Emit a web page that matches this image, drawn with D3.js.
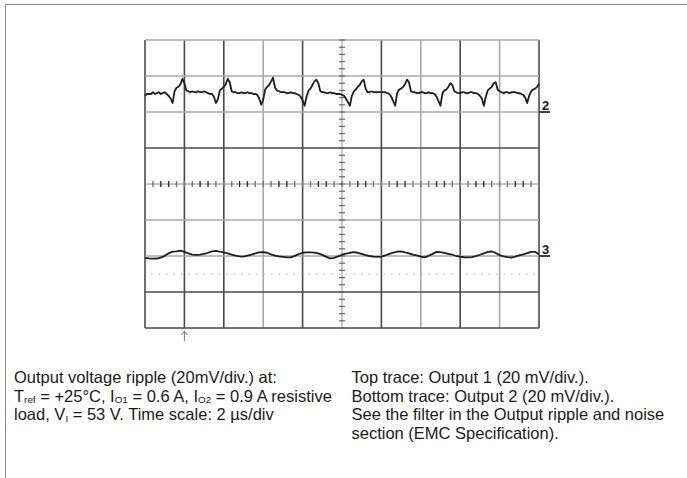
<!DOCTYPE html>
<html>
<head>
<meta charset="utf-8">
<script src="https://cdn.jsdelivr.net/npm/d3@7"></script>
<style>
  html, body { margin: 0; padding: 0; background: #fff; }
  svg { display: block; }
  text { font-family: "Liberation Sans", Arial, Helvetica, sans-serif; fill: #1a1a1a; }
</style>
</head>
<body>
<svg id="chart" width="687" height="478"></svg>
<script>
// Oscilloscope settings
const timePerDivUs = 2;       // µs per horizontal division
const mvPerDiv = 20;          // mV per vertical division
const hDivs = 10;
const vDivs = 8;
const sampleStepTopUs = 0.1;  // sampling interval of channel 2 record
const sampleStepBotUs = 0.2;  // sampling interval of channel 3 record
const ch2GroundMv = 40;       // channel 2 ground marker (+2 div)
const ch3GroundMv = -40;      // channel 3 ground marker (-2 div)
const channelLabels = ["2", "3"];

// Channel 2 (Output 1) record, mV above its ground marker
const output1Mv = [
  9,10,10,10,11,10,10.5,11,10,10.5,
  11,10,9,7.5,5,11.5,13.5,14,15.5,18.5,
  16,12,11.5,11,11.5,11,11,11.5,11,11,
  11.5,11,10.5,10,10,8.5,5,7,12,13,
  14,15.5,18.5,16.5,11.5,11,11,10.5,10.5,11,
  10.5,10.5,11,10.5,10.5,10,10,9.5,7.5,4,
  7,12.5,14,15,17,19,13.5,12,11.5,11,
  11,11,10.5,10.5,11,10.5,10.5,10,9.5,8.5,
  6.5,3.5,8.5,12,13,15,17,18,16,11.5,
  11,11,10.5,10.5,11,10.5,10.5,10,10,10,
  9.5,9,7.5,5.5,3.5,9,11.5,12.5,14,15,
  17,18,13,11,11,11.5,11,11,11,11,
  11,11,11,10.5,10,8.5,6,3.5,10.5,12.5,
  13,14,15.5,18,16.5,11.5,11,11,10.5,10.5,
  11,11,10.5,10.5,11,10.5,10.5,10,8.5,6,
  3.5,10.5,12,12.5,14,16,15,11.5,11,10.5,
  10.5,11,11,10.5,10.5,11,11,10.5,10.5,10,
  9,7.5,3.5,8.5,12,13,14,16,16.5,12.5,
  11.5,11,10.5,11,11,10.5,11,11,11,10.5,
  10.5,10,9.5,8,5,9,11.5,12.5,13,14,
  15.5
];

// Channel 3 (Output 2) record, mV above its ground marker
const output2Mv = [
  -1,-1.3,-1.5,-1.4,-0.9,0.1,1.5,2.4,2.6,3,
  2.3,1.5,0.8,0.6,0.8,1.2,1.8,2.6,2.8,2.4,
  2,1.5,0.8,0.2,-0.2,-0.3,0.2,0.8,1.5,2,
  2.2,1.8,0.9,0.2,-0.2,-0.5,-0.8,-0.8,0.1,1,
  1.8,2,2,1.9,1.5,0.6,-0.5,-1.3,-1,-0.2,
  0.7,1.3,1.8,2.2,1.8,1.2,0.5,0,-0.3,-0.5,
  -0.4,0.3,1.2,1.9,2.4,2.6,2,1.5,0.8,0.3,
  -0.3,-0.8,0.1,1.2,2.3,2.1,1.7,1.2,0.7,0,
  -0.4,-0.7,-0.8,-0.6,-0.1,0.7,1.5,2.3,2.5,1.7,
  0.5,-0.2,-0.6,-0.9,-0.4,0.3,0.9,1.6,2.3,2.3,
  0.9
];

// Half-division reference markers (absolute screen mV)
const refMarkersMv = [ch2GroundMv + 10, ch3GroundMv - 10];

// Caption text
const captionLeft = [
  [{t: "Output voltage ripple (20mV/div.) at:"}],
  [{t: "T"}, {t: "ref", sub: true}, {t: " = +25°C, I"}, {t: "O1", sub: true},
   {t: " = 0.6 A, I"}, {t: "O2", sub: true}, {t: " = 0.9 A resistive"}],
  [{t: "load, V"}, {t: "I", sub: true}, {t: " = 53 V. Time scale: 2 µs/div"}]
];
const captionRight = [
  "Top trace: Output 1 (20 mV/div.).",
  "Bottom trace: Output 2 (20 mV/div.).",
  "See the filter in the Output ripple and noise",
  "section (EMC Specification)."
];

const svg = d3.select("#chart");

// Page frame
svg.append("path")
  .attr("d", "M5.5,478 V4.5 H687")
  .attr("fill", "none").attr("stroke", "#8a8a8a").attr("stroke-width", 1);

// Screen scales
const x = d3.scaleLinear().domain([0, hDivs * timePerDivUs]).range([145, 539]);
const y = d3.scaleLinear().domain([-vDivs / 2 * mvPerDiv, vDivs / 2 * mvPerDiv]).range([328, 40]);

const screen = svg.append("g");

// Graticule: a few lines print darker than others
const vShade = ["d", "d", "d", "l", "d", "c", "d", "l", "d", "l", "d"];
const hShade = ["d", "d", "l", "l", "c", "d", "l", "l", "l"]; // listed bottom to top
const shadeColor = {d: "#4a4a4a", l: "#a8a8a8", c: "#8c8c8c"};
const shadeWidth = {d: 1.6, l: 1.6, c: 1};

const xMajor = x.ticks(hDivs);
const yMajor = y.ticks(vDivs);

screen.selectAll("line.v").data(xMajor).join("line")
  .attr("class", "v")
  .attr("x1", d => x(d)).attr("x2", d => x(d))
  .attr("y1", y.range()[1]).attr("y2", y.range()[0])
  .attr("stroke", (d, i) => shadeColor[vShade[i]])
  .attr("stroke-width", (d, i) => shadeWidth[vShade[i]]);

screen.selectAll("line.h").data(yMajor).join("line")
  .attr("class", "h")
  .attr("y1", d => y(d)).attr("y2", d => y(d))
  .attr("x1", x.range()[0]).attr("x2", x.range()[1])
  .attr("stroke", (d, i) => shadeColor[hShade[i]])
  .attr("stroke-width", (d, i) => shadeWidth[hShade[i]]);

// Minor ticks on the centre axes (5 per division)
const xMinor = d3.range(0, hDivs * timePerDivUs + 1e-9, timePerDivUs / 5);
const yMinor = d3.range(-vDivs / 2 * mvPerDiv, vDivs / 2 * mvPerDiv + 1e-9, mvPerDiv / 5);
const xMid = x(hDivs * timePerDivUs / 2);
const yMid = y(0);

screen.append("g").selectAll("line").data(xMinor).join("line")
  .attr("x1", d => x(d)).attr("x2", d => x(d))
  .attr("y1", yMid - 3).attr("y2", yMid + 3)
  .attr("stroke", (d, i) => (i % 5 === 2 || i % 5 === 3) ? "#333" : "#777")
  .attr("stroke-width", 1.4);

screen.append("g").selectAll("line").data(yMinor).join("line")
  .attr("y1", d => y(d)).attr("y2", d => y(d))
  .attr("x1", xMid - 3).attr("x2", xMid + 3)
  .attr("stroke", "#666").attr("stroke-width", 1.2);

// Dotted half-division reference markers
screen.append("g").selectAll("line").data(refMarkersMv).join("line")
  .attr("x1", x.range()[0] + 6).attr("x2", x.range()[1] - 4)
  .attr("y1", d => y(d)).attr("y2", d => y(d))
  .attr("stroke", "#b0b0b0").attr("stroke-width", 1.2)
  .attr("stroke-dasharray", "1.5,6");

// Traces
const trace = (step, ground) => d3.line()
  .x((d, i) => x(i * step))
  .y(d => y(d + ground));

screen.append("path")
  .datum(output1Mv)
  .attr("d", trace(sampleStepTopUs, ch2GroundMv))
  .attr("fill", "none").attr("stroke", "#1e1e1e")
  .attr("stroke-width", 1.8).attr("stroke-linejoin", "round");

screen.append("path")
  .datum(output2Mv)
  .attr("d", trace(sampleStepBotUs, ch3GroundMv))
  .attr("fill", "none").attr("stroke", "#1e1e1e")
  .attr("stroke-width", 1.8).attr("stroke-linejoin", "round");

// Channel ground markers
const grounds = [ch2GroundMv, ch3GroundMv];
const markers = screen.append("g").selectAll("g").data(grounds).join("g");
markers.append("line")
  .attr("x1", x.range()[1]).attr("x2", x.range()[1] + 11)
  .attr("y1", d => y(d)).attr("y2", d => y(d))
  .attr("stroke", "#111").attr("stroke-width", 1.6);
markers.append("text")
  .attr("x", x.range()[1] + 3)
  .attr("y", d => y(d) - 2)
  .attr("font-size", 13).attr("font-weight", "bold")
  .text((d, i) => channelLabels[i]);

// Trigger position arrow below the screen
const trigX = x(timePerDivUs);
const arrow = screen.append("g").attr("stroke", "#777").attr("stroke-width", 1).attr("fill", "none");
arrow.append("line").attr("x1", trigX).attr("x2", trigX).attr("y1", y.range()[0] + 3).attr("y2", y.range()[0] + 13);
arrow.append("path").attr("d", `M${trigX - 3},${y.range()[0] + 7} L${trigX},${y.range()[0] + 3} L${trigX + 3},${y.range()[0] + 7}`);

// Caption, left column with subscripts
const fs = 16.5, lineH = 18.5, base = 383.3, subShift = 1.5;
const left = svg.append("text").attr("font-size", fs);
captionLeft.forEach((parts, li) => {
  let shifted = false;
  parts.forEach((p, pi) => {
    const s = left.append("tspan").text(p.t);
    if (pi === 0) s.attr("x", 14).attr("y", base + li * lineH);
    if (p.sub) { s.attr("font-size", fs * 0.6).attr("dy", subShift); shifted = true; }
    else if (shifted) { s.attr("dy", -subShift); shifted = false; }
  });
});

// Caption, right column
svg.append("text").attr("font-size", fs)
  .selectAll("tspan").data(captionRight).join("tspan")
  .attr("x", 351.5).attr("y", (d, i) => base + i * lineH)
  .text(d => d);
</script>
</body>
</html>
